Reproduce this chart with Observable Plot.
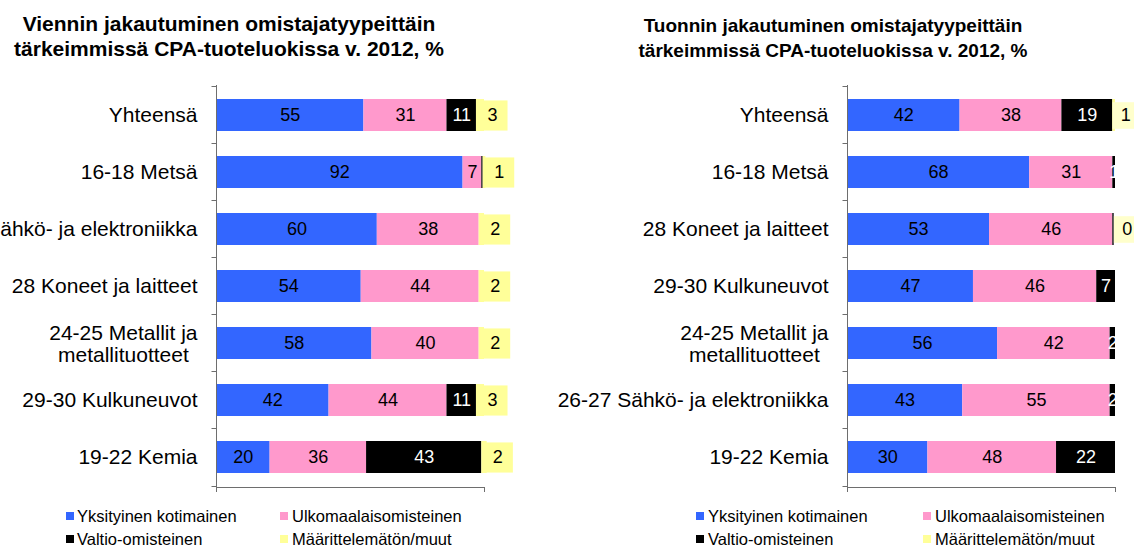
<!DOCTYPE html>
<html><head><meta charset="utf-8">
<script src="https://cdn.jsdelivr.net/npm/d3@7"></script>
<script src="https://cdn.jsdelivr.net/npm/@observablehq/plot@0.6"></script>
<style>
body{margin:0;background:#fff;font-family:"Liberation Sans",Arial,sans-serif;}
#root{position:relative;width:1134px;height:548px;overflow:hidden;background:#fff;}
.title{position:absolute;width:600px;text-align:center;font-weight:bold;line-height:25px;color:#000;}
.panel{position:absolute;top:60px;}
.lt{position:absolute;font-size:16.5px;line-height:20px;color:#000;white-space:nowrap;}
.sw{position:absolute;width:8px;height:8px;}
</style>
</head><body>
<div id="root">
  <div class="title" style="left:-71px;top:11px;font-size:21px">Viennin jakautuminen omistajatyypeittäin<br>tärkeimmissä CPA-tuoteluokissa v. 2012, %</div>
  <div class="title" style="left:533px;top:13px;font-size:19px">Tuonnin jakautuminen omistajatyypeittäin<br>tärkeimmissä CPA-tuoteluokissa v. 2012, %</div>
  <div id="left" class="panel" style="left:0px"></div>
  <div id="right" class="panel" style="left:567px"></div>
  <div id="legends"></div>
</div>
<script>
const FONT = '"Liberation Sans", Arial, sans-serif';
const AXIS = "#6e6e6e";

// Series names and colours
const typeNames = ["Yksityinen kotimainen", "Ulkomaalaisomisteinen", "Valtio-omisteinen", "Määrittelemätön/muut"];
const typeColors = ["#3366FF", "#FF99CC", "#000000", "#FFFF99"];

// Vienti (export)
const exportCategories = ["Yhteensä", "16-18 Metsä", "26-27 Sähkö- ja elektroniikka", "28 Koneet ja laitteet", "24-25 Metallit ja\nmetallituotteet", "29-30 Kulkuneuvot", "19-22 Kemia"];
const exportYksityinen = [55, 92, 60, 54, 58, 42, 20];
const exportUlkomaalais = [31, 7, 38, 44, 40, 44, 36];
const exportValtio = [11, 0.5, 0, 0, 0, 11, 43];
const exportMuut = [3, 1, 2, 2, 2, 3, 2];

// Tuonti (import)
const importCategories = ["Yhteensä", "16-18 Metsä", "28 Koneet ja laitteet", "29-30 Kulkuneuvot", "24-25 Metallit ja\nmetallituotteet", "26-27 Sähkö- ja elektroniikka", "19-22 Kemia"];
const importYksityinen = [42, 68, 53, 47, 56, 43, 30];
const importUlkomaalais = [38, 31, 46, 46, 42, 55, 48];
const importValtio = [19, 1, 0.5, 7, 2, 2, 22];
const importMuut = [1, null, 0, null, null, null, null];

function buildRows(cats, series) {
  const rows = [];
  cats.forEach((c, i) => {
    let acc = 0;
    series.forEach((s, k) => {
      const v = s[i];
      if (v == null) return;
      rows.push({cat: c, type: typeNames[k], k, value: v, x1: acc, x2: acc + v});
      acc += v;
    });
  });
  return rows;
}

const ctx = document.createElement("canvas").getContext("2d");
ctx.font = "21px " + FONT;

function bandTicks(cats) {
  return (index, scales, values, dims) => {
    const y = scales.y;
    const n = cats.length;
    const step = (dims.height - dims.marginTop - dims.marginBottom) / n;
    const bw = (typeof y.bandwidth === "function") ? y.bandwidth() : step * (1 - 0.443);
    const x0 = dims.marginLeft + 0.5;
    const g = d3.create("svg:g").attr("stroke", AXIS).attr("stroke-width", 1);
    for (let i = 0; i <= n; i++) {
      const c = cats[Math.min(i, n - 1)];
      const center = y(c) + bw / 2;
      const yy = Math.round(i < n ? center - step / 2 : center + step / 2) + 0.5;
      g.append("line").attr("x1", x0 - 5).attr("x2", x0).attr("y1", yy).attr("y2", yy);
    }
    return g.node();
  };
}

function chart(cats, rows, o) {
  const segs = rows.filter(d => d.value > 0);
  const inner = rows.filter(d => d.k < 3 && d.value >= 1);
  const boxes = rows.filter(d => d.k === 3);
  const multi = cats.filter(c => c.includes("\n"));
  const multiMarks = multi.map(c => {
    const w = d3.max(c.split("\n"), s => ctx.measureText(s).width);
    return Plot.text([c], {y: d => d, text: d => d, frameAnchor: "left", textAnchor: "middle",
      dx: -(19 + w / 2), lineHeight: 1.05, fontSize: 21, fill: "black"});
  });
  return Plot.plot({
    width: 567, height: 440,
    marginTop: 25, marginBottom: 13, marginLeft: o.ml, marginRight: o.mr,
    style: {fontFamily: FONT, fontSize: "18px", overflow: "visible", background: "transparent", color: "black"},
    x: {domain: [0, 100], label: null},
    y: {domain: cats, paddingInner: 0.443, paddingOuter: 0.2215, label: null},
    color: {domain: typeNames, range: typeColors},
    marks: [
      Plot.barX(segs, {x1: "x1", x2: "x2", y: "cat", fill: "type"}),
      Plot.text(inner.filter(d => d.k !== 2), {x: d => (d.x1 + d.x2) / 2, y: "cat", text: d => String(d.value), fill: "black", fontSize: 18}),
      Plot.text(inner.filter(d => d.k === 2), {x: d => (d.x1 + d.x2) / 2, y: "cat", text: d => String(d.value), fill: "white", fontSize: 18}),
      Plot.dot(boxes, {x: "x1", y: "cat", symbol: "square", r: o.boxR, fill: o.boxFill, dx: o.boxDx}),
      Plot.text(boxes, {x: "x1", y: "cat", text: d => String(d.value), dx: o.boxDx, fill: "black", fontSize: 18}),
      Plot.frame({anchor: "left", stroke: AXIS}),
      Plot.frame({anchor: "bottom", stroke: AXIS}),
      Plot.axisX({ticks: [0, 100], tickSize: 5, tickFormat: () => "", stroke: AXIS, label: null}),
      bandTicks(cats),
      Plot.axisY({tickSize: 0, tickPadding: 19, fontSize: 21, fill: "black", label: null, tickFormat: d => d.includes("\n") ? "" : d}),
      ...multiMarks
    ]
  });
}

const exportRows = buildRows(exportCategories, [exportYksityinen, exportUlkomaalais, exportValtio, exportMuut]);
const importRows = buildRows(importCategories, [importYksityinen, importUlkomaalais, importValtio, importMuut]);

document.getElementById("left").append(chart(exportCategories, exportRows, {ml: 216, mr: 83, boxR: 17, boxFill: "#FFFF99", boxDx: 16}));
document.getElementById("right").append(chart(importCategories, importRows, {ml: 280, mr: 19, boxR: 15, boxFill: "#FFFFCC", boxDx: 13}));

// Legends
const legendPos = [
  {sx: 66, tx: 77}, {sx: 280, tx: 292}, // left panel columns
  {sx: 696, tx: 708}, {sx: 923, tx: 935} // right panel columns
];
const legRoot = document.getElementById("legends");
[[0, 1], [2, 3]].forEach(cols => {
  const order = [[0, 1], [2, 3]]; // row 1: types 0,1 ; row 2: types 2,3
  order.forEach((pair, row) => {
    pair.forEach((t, j) => {
      const p = legendPos[cols[j]];
      const top = row === 0 ? 505.5 : 528.5;
      const sw = document.createElement("div");
      sw.className = "sw";
      sw.style.left = p.sx + "px";
      sw.style.top = (top + 6) + "px";
      sw.style.background = typeColors[t];
      legRoot.append(sw);
      const tx = document.createElement("div");
      tx.className = "lt";
      tx.style.left = p.tx + "px";
      tx.style.top = top + "px";
      tx.textContent = typeNames[t];
      legRoot.append(tx);
    });
  });
});
</script>
</body></html>
